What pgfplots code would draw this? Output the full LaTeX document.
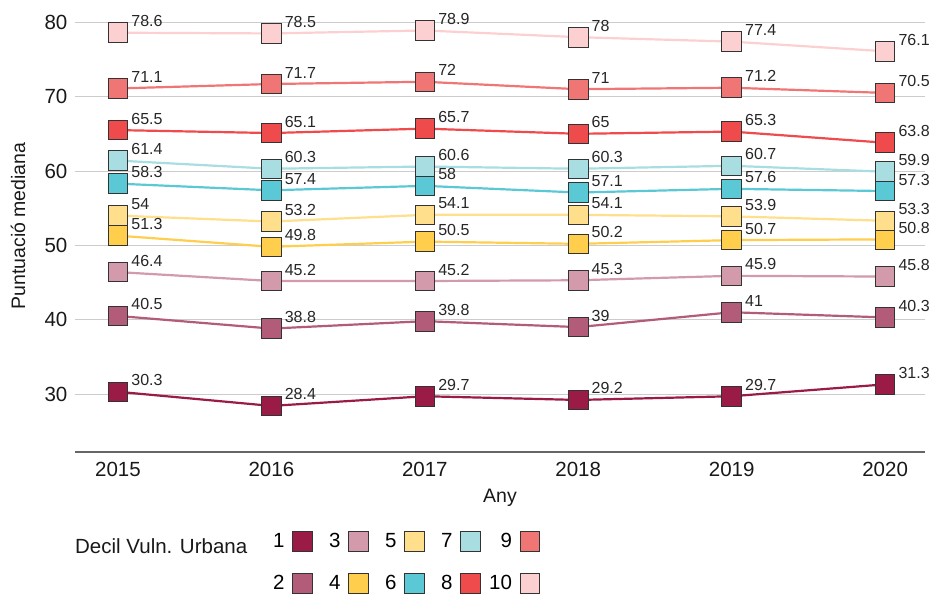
\documentclass[border=0pt]{standalone}
\usepackage{fontspec}
\setmainfont{Liberation Sans}
\usepackage{pgfplots}
\pgfplotsset{compat=1.18}
\definecolor{c1}{HTML}{9B1B47}
\definecolor{c2}{HTML}{B35C7A}
\definecolor{c3}{HTML}{D39AAC}
\definecolor{c4}{HTML}{FFCE4D}
\definecolor{c5}{HTML}{FFDF8C}
\definecolor{c6}{HTML}{5BC8D5}
\definecolor{c7}{HTML}{A8DDE2}
\definecolor{c8}{HTML}{EF4B4D}
\definecolor{c9}{HTML}{F07575}
\definecolor{c10}{HTML}{FCCFD0}
\pgfplotsset{
  ser/.style={color=#1, line width=2.2pt, mark=square*, mark size=9.8pt,
    mark options={fill=#1, draw=black!80, line width=0.9pt}},
}
\begin{document}
\begin{tikzpicture}
\useasboundingbox (-75pt,-142pt) rectangle (855pt,452pt);
\begin{axis}[
  width=850pt, height=452pt, scale only axis,
  xmin=2014.72, xmax=2020.26, ymin=22.2, ymax=83,
  axis x line=bottom, axis y line=left,
  x axis line style={-, draw=black!60, line width=1.2pt},
  y axis line style={draw=none},
  tick style={draw=none},
  ymajorgrids, grid style={black!20, line width=0.9pt},
  xtick={2015,2016,2017,2018,2019,2020},
  ytick={30,40,50,60,70,80},
  xticklabel style={/pgf/number format/1000 sep={}, yshift=-5pt},
  yticklabel style={xshift=-2pt},
  /pgf/number format/assume math mode=true,
  tick label style={font=\fontsize{20.5}{22}\selectfont, text=black!90},
  label style={font=\fontsize{19.5}{22}\selectfont, text=black!90},
  xlabel style={yshift=-5pt},
  ylabel style={at={(axis description cs:-0.067,0.5)}, anchor=center},
  xlabel={Any}, ylabel={Puntuació mediana},
  clip=false,
  nodes near coords,
  every node near coord/.append style={anchor=base west, inner sep=0pt,
    xshift=13pt, yshift=6pt, font=\fontsize{16}{18}\selectfont, text=black!85},
  legend columns=2, transpose legend,
  legend cell align=right,
  legend plot pos=right,
  legend image code/.code={\draw[#1, only marks] plot coordinates {(0.35cm,0cm)};},
  legend style={at={(0.227,-0.171)}, anchor=north west, draw=none, fill=none,
    font=\fontsize{20.5}{22}\selectfont,
    /tikz/every odd column/.append style={column sep=6pt},
    /tikz/every even column/.append style={column sep=15pt},
    row sep=22pt},
]
\addplot[ser=c1] coordinates {(2015,30.3) (2016,28.4) (2017,29.7) (2018,29.2) (2019,29.7) (2020,31.3)};
\addlegendentry{1}
\addplot[ser=c2] coordinates {(2015,40.5) (2016,38.8) (2017,39.8) (2018,39) (2019,41) (2020,40.3)};
\addlegendentry{2}
\addplot[ser=c3] coordinates {(2015,46.4) (2016,45.2) (2017,45.2) (2018,45.3) (2019,45.9) (2020,45.8)};
\addlegendentry{3}
\addplot[ser=c4] coordinates {(2015,51.3) (2016,49.8) (2017,50.5) (2018,50.2) (2019,50.7) (2020,50.8)};
\addlegendentry{4}
\addplot[ser=c5] coordinates {(2015,54) (2016,53.2) (2017,54.1) (2018,54.1) (2019,53.9) (2020,53.3)};
\addlegendentry{5}
\addplot[ser=c6] coordinates {(2015,58.3) (2016,57.4) (2017,58) (2018,57.1) (2019,57.6) (2020,57.3)};
\addlegendentry{6}
\addplot[ser=c7] coordinates {(2015,61.4) (2016,60.3) (2017,60.6) (2018,60.3) (2019,60.7) (2020,59.9)};
\addlegendentry{7}
\addplot[ser=c8] coordinates {(2015,65.5) (2016,65.1) (2017,65.7) (2018,65) (2019,65.3) (2020,63.8)};
\addlegendentry{8}
\addplot[ser=c9] coordinates {(2015,71.1) (2016,71.7) (2017,72) (2018,71) (2019,71.2) (2020,70.5)};
\addlegendentry{9}
\addplot[ser=c10] coordinates {(2015,78.6) (2016,78.5) (2017,78.9) (2018,78) (2019,77.4) (2020,76.1)};
\addlegendentry{\hspace{-8pt}10}
\node[anchor=west, inner sep=0pt, font=\fontsize{20.5}{22}\selectfont, text=black!90] at (axis description cs:0,-0.208) {Decil Vuln. Urbana};
\end{axis}
\end{tikzpicture}
\end{document}
